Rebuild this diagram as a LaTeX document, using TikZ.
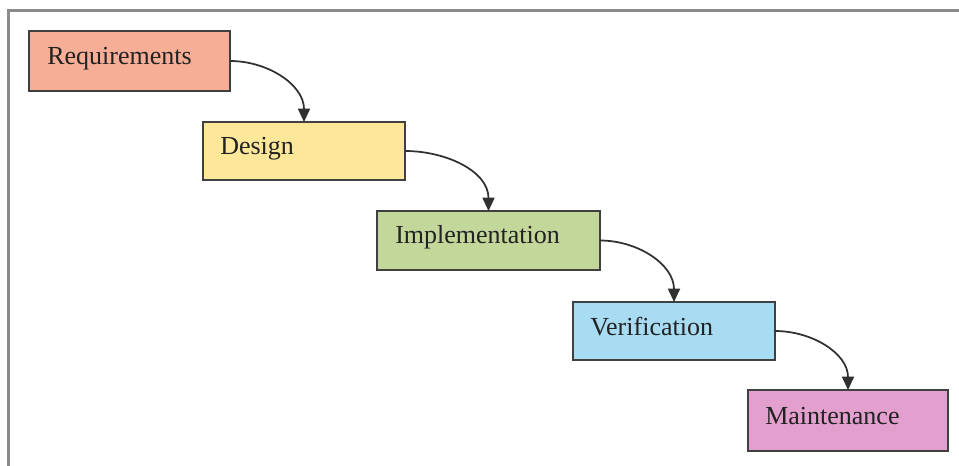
\documentclass[tikz,border=0pt]{standalone}
\usepackage{fontspec}
\setmainfont{Liberation Serif}
\usetikzlibrary{arrows.meta}
\definecolor{reqc}{HTML}{F7AE96}
\definecolor{desc}{HTML}{FDE89A}
\definecolor{impc}{HTML}{C4D79B}
\definecolor{verc}{HTML}{A8DCF2}
\definecolor{mntc}{HTML}{E3A0CE}
\definecolor{edgec}{HTML}{404040}
\definecolor{flowc}{HTML}{303030}
\definecolor{framec}{HTML}{8A8A8A}
\definecolor{txtc}{HTML}{222222}
\tikzset{
  phase/.style={draw=edgec, line width=1.3pt, rectangle, inner sep=0pt, outer sep=0pt},
  lbl/.style={anchor=base west, inner sep=0pt, text=txtc, font=\fontsize{19.5pt}{22pt}\selectfont},
  flow/.style={draw=flowc, line width=1.3pt, -{Triangle[length=10pt,width=9pt]}},
  frame/.style={draw=framec, line width=1.6pt}
}
\begin{document}
\begin{tikzpicture}[x=0.75pt,y=-0.75pt]
\useasboundingbox (0,0) rectangle (959,466);
\fill[white] (0,0) rectangle (959,466);
\coordinate (fa) at (8.5,466);
\coordinate (fb) at (8.5,10.5);
\coordinate (fc) at (959,10.5);
\draw[frame] (fa) -- (fb) -- (fc);
% boxes (1px = 0.75pt)
\node[phase, fill=reqc, minimum width=150.75pt, minimum height=45pt] (req) at (129.5,61) {};
\node[phase, fill=desc, minimum width=151.5pt, minimum height=43.5pt] (des) at (304,151) {};
\node[phase, fill=impc, minimum width=167.25pt, minimum height=44.25pt] (imp) at (488.5,240.5) {};
\node[phase, fill=verc, minimum width=151.5pt, minimum height=43.5pt] (ver) at (674,331) {};
\node[phase, fill=mntc, minimum width=150pt, minimum height=45.75pt] (mnt) at (848,420.5) {};
% labels
\node[lbl] (reqT) at (47,65) {Requirements};
\node[lbl] (desT) at (220,154.5) {Design};
\node[lbl] (impT) at (395,244) {Implementation};
\node[lbl] (verT) at (590,335) {Verification};
\node[lbl] (mntT) at (765,424.5) {Maintenance};
% connectors
\draw[flow] (req.east) to[out=0,in=90] (des.north);
\draw[flow] (des.east) to[out=0,in=90] (imp.north);
\draw[flow] (imp.east) to[out=0,in=90] (ver.north);
\draw[flow] (ver.east) to[out=0,in=90] (mnt.north);
\end{tikzpicture}
\end{document}
